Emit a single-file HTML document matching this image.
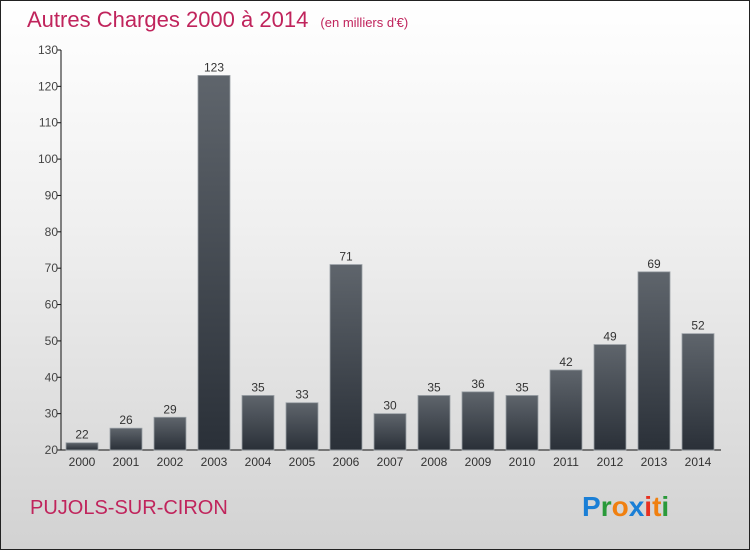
<!DOCTYPE html>
<html><head><meta charset="utf-8"><style>
body{margin:0}
#c{width:750px;height:550px;position:relative;box-sizing:border-box;border:1px solid #222;background:linear-gradient(#ffffff,#f0f0f0 40%,#d2d2d2);font-family:"Liberation Sans",sans-serif;overflow:hidden}
</style></head><body>
<div id="c">
<svg id="s" width="750" height="550" style="position:absolute;left:-1px;top:-1px">
<defs><linearGradient id="bg" x1="0" y1="0" x2="0" y2="1"><stop offset="0" stop-color="#5f656c"/><stop offset="1" stop-color="#2a3038"/></linearGradient></defs>
<text x="27" y="27" font-size="22" fill="#c0245c">Autres Charges 2000 à 2014 <tspan font-size="13" dx="6">(en milliers d'€)</tspan></text>
<text x="30" y="514" font-size="20" fill="#c0245c">PUJOLS-SUR-CIRON</text>
<g font-size="28" font-weight="bold">
<text x="582" y="516"><tspan fill="#1a7fd6">P</tspan><tspan fill="#2a9a3a">r</tspan><tspan fill="#f08010">o</tspan><tspan fill="#1a7fd6">x</tspan><tspan fill="#e83020">i</tspan><tspan fill="#f08010">t</tspan><tspan fill="#2a9a3a">i</tspan></text></g>
<g id="g"></g>
</svg></div>
<script>
const years=["2000","2001","2002","2003","2004","2005","2006","2007","2008","2009","2010","2011","2012","2013","2014"];
const values=[22,26,29,123,35,33,71,30,35,36,35,42,49,69,52];
const yTicks=[20,30,40,50,60,70,80,90,100,110,120,130];
const NS="http://www.w3.org/2000/svg",g=document.getElementById('g');
const y=v=>450-(v-20)*400/110, x=i=>82+i*44;
function mk(t,a,txt){const e=document.createElementNS(NS,t);for(const k in a)e.setAttribute(k,a[k]);if(txt!==undefined)e.textContent=txt;g.appendChild(e);return e;}
let e=mk('line',{x1:61,y1:50,x2:61,y2:450,stroke:'#111'});

e=mk('line',{x1:61,y1:450,x2:721,y2:450,stroke:'#111'});

yTicks.forEach(v=>{
 let t=mk('line',{x1:57,y1:y(v),x2:61,y2:y(v),stroke:'#111'});
 
 let l=mk('text',{x:58,y:y(v)+4,'font-size':12,fill:'#444','text-anchor':'end'},v);
 
});
years.forEach((yr,i)=>{
 const v=values[i];
 let b=mk('rect',{x:x(i)-16,y:y(v),width:32,height:450-y(v),fill:'url(#bg)',stroke:'#9aa0a6','stroke-width':0.8});
 
 let l=mk('text',{x:x(i),y:y(v)-4,'font-size':12,fill:'#333','text-anchor':'middle'},v);
 
 let t=mk('text',{x:x(i),y:466,'font-size':12,fill:'#333','text-anchor':'middle'},yr);
 
});
</script>
</body></html>
